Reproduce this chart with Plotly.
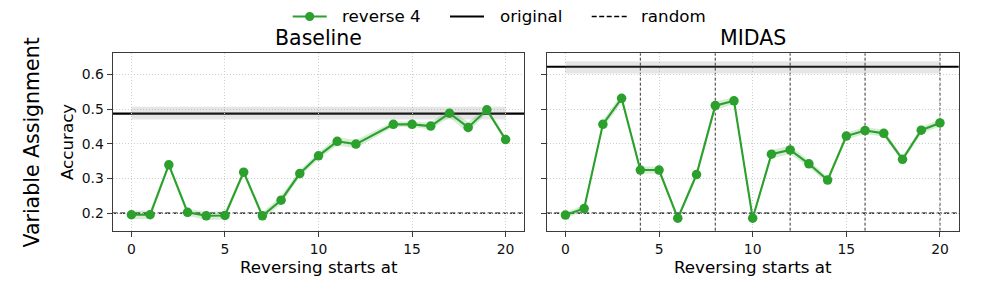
import plotly.graph_objects as go

# ---------------- data ----------------
baseline_x = [0, 1, 2, 3, 4, 5, 6, 7, 8, 9, 10, 11, 12, 14, 15, 16, 17, 18, 19, 20]
baseline_acc = [0.195, 0.195, 0.339, 0.202, 0.192, 0.193, 0.318, 0.192, 0.237, 0.314,
                0.365, 0.407, 0.399, 0.456, 0.456, 0.451, 0.488, 0.447, 0.498, 0.412]
baseline_std = [0.012, 0.012, 0.008, 0.010, 0.012, 0.012, 0.008, 0.010, 0.012, 0.010,
                0.010, 0.012, 0.012, 0.008, 0.008, 0.010, 0.012, 0.016, 0.008, 0.008]

midas_x = [0, 1, 2, 3, 4, 5, 6, 7, 8, 9, 10, 11, 12, 13, 14, 15, 16, 17, 18, 19, 20]
midas_acc = [0.194, 0.213, 0.456, 0.531, 0.324, 0.324, 0.185, 0.311, 0.510, 0.524, 0.185,
             0.370, 0.382, 0.342, 0.295, 0.422, 0.438, 0.430, 0.355, 0.439, 0.460]
midas_std = [0.008, 0.010, 0.012, 0.012, 0.010, 0.010, 0.006, 0.010, 0.012, 0.010, 0.006,
             0.012, 0.012, 0.010, 0.010, 0.010, 0.010, 0.010, 0.008, 0.010, 0.010]

original_mean = {"Baseline": 0.487, "MIDAS": 0.622}
original_lo = {"Baseline": 0.470, "MIDAS": 0.603}
original_hi = {"Baseline": 0.507, "MIDAS": 0.638}
random_level = 0.2
midas_vlines = [4, 8, 12, 16, 20]

x_ticks = [0, 5, 10, 15, 20]
y_ticks = [0.2, 0.3, 0.4, 0.5, 0.6]
y_tick_labels = ["0.2", "0.3", "0.4", "0.5", "0.6"]

panel_titles = ["Baseline", "MIDAS"]
legend_labels = ["reverse 4", "original", "random"]

# ---------------- style ----------------
W, H = 997, 299
GREEN = "#2ca02c"
GREEN_BAND = "rgba(44,160,44,0.2)"
GREY_BAND = "rgba(128,128,128,0.2)"
FONT = "DejaVu Sans"
SPINE = "#3a3a3a"
DASH = "5px,2.5px"


def px_x(p):
    return p / W


def px_y(p):
    return 1 - p / H


panels = [
    dict(name="Baseline", x=baseline_x, y=baseline_acc, s=baseline_std,
         xa="x", ya="y", dom=(112.7, 524.3)),
    dict(name="MIDAS", x=midas_x, y=midas_acc, s=midas_std,
         xa="x2", ya="y2", dom=(546.7, 958.7)),
]
ydom = (px_y(230.7), px_y(53.3))

fig = go.Figure()
shapes = []
annotations = []

for i, p in enumerate(panels):
    xs, ys, ss = p["x"], p["y"], p["s"]
    name = p["name"]
    # original band (constant across x range of data)
    fig.add_trace(go.Scatter(x=[xs[0], xs[-1]], y=[original_hi[name]] * 2, mode="lines",
                             line=dict(width=0), hoverinfo="skip", showlegend=False,
                             xaxis=p["xa"], yaxis=p["ya"]))
    fig.add_trace(go.Scatter(x=[xs[0], xs[-1]], y=[original_lo[name]] * 2, mode="lines",
                             line=dict(width=0), fill="tonexty", fillcolor=GREY_BAND,
                             hoverinfo="skip", showlegend=False,
                             xaxis=p["xa"], yaxis=p["ya"]))
    # green band
    fig.add_trace(go.Scatter(x=xs, y=[a + b for a, b in zip(ys, ss)], mode="lines",
                             line=dict(width=0), hoverinfo="skip", showlegend=False,
                             xaxis=p["xa"], yaxis=p["ya"]))
    fig.add_trace(go.Scatter(x=xs, y=[a - b for a, b in zip(ys, ss)], mode="lines",
                             line=dict(width=0), fill="tonexty", fillcolor=GREEN_BAND,
                             hoverinfo="skip", showlegend=False,
                             xaxis=p["xa"], yaxis=p["ya"]))
    # main series
    fig.add_trace(go.Scatter(x=xs, y=ys, mode="lines+markers",
                             line=dict(color=GREEN, width=2.1),
                             marker=dict(color=GREEN, size=9.5),
                             name="reverse 4", showlegend=False,
                             xaxis=p["xa"], yaxis=p["ya"]))

    xd = p["xa"] + " domain"
    # original horizontal line
    shapes.append(dict(type="line", xref=xd, yref=p["ya"], x0=0, x1=1,
                       y0=original_mean[name], y1=original_mean[name],
                       line=dict(color="black", width=2.1), layer="below"))
    # random dashed line
    shapes.append(dict(type="line", xref=xd, yref=p["ya"], x0=0, x1=1,
                       y0=random_level, y1=random_level,
                       line=dict(color="black", width=1.3, dash=DASH), layer="below"))

    # title & xlabel
    cx = (p["dom"][0] + p["dom"][1]) / 2
    annotations.append(dict(text=panel_titles[i], xref="paper", yref="paper",
                            x=px_x(cx), y=px_y(37.5), xanchor="center", yanchor="middle",
                            showarrow=False, font=dict(family=FONT, size=20.5, color="black")))
    annotations.append(dict(text="Reversing starts at", xref="paper", yref="paper",
                            x=px_x(cx), y=px_y(267), xanchor="center", yanchor="middle",
                            showarrow=False, font=dict(family=FONT, size=16.7, color="black")))

for v in midas_vlines:
    shapes.append(dict(type="line", xref="x2", yref="y2 domain", x0=v, x1=v, y0=0, y1=1,
                       line=dict(color="rgba(0,0,0,0.8)", width=1, dash="3px,2px"),
                       layer="below"))

# y label and row label
annotations.append(dict(text="Accuracy", xref="paper", yref="paper", x=px_x(67),
                        y=px_y(142), xanchor="center", yanchor="middle", textangle=-90,
                        showarrow=False, font=dict(family=FONT, size=16.7, color="black")))
annotations.append(dict(text="Variable Assignment", xref="paper", yref="paper", x=px_x(31),
                        y=px_y(142.5), xanchor="center", yanchor="middle", textangle=-90,
                        showarrow=False, font=dict(family=FONT, size=20.5, color="black")))

# ---------------- manual legend ----------------
ly = px_y(16.5)
shapes.append(dict(type="line", xref="paper", yref="paper", x0=px_x(292.7), x1=px_x(326.7),
                   y0=ly, y1=ly, line=dict(color=GREEN, width=2.1)))
shapes.append(dict(type="circle", xref="paper", yref="paper",
                   x0=px_x(309.7 - 4.6), x1=px_x(309.7 + 4.6),
                   y0=px_y(16.5 + 4.6), y1=px_y(16.5 - 4.6),
                   fillcolor=GREEN, line=dict(width=0)))
shapes.append(dict(type="line", xref="paper", yref="paper", x0=px_x(450), x1=px_x(484),
                   y0=ly, y1=ly, line=dict(color="black", width=2.1)))
shapes.append(dict(type="line", xref="paper", yref="paper", x0=px_x(591.7), x1=px_x(626.7),
                   y0=ly, y1=ly, line=dict(color="black", width=1.3, dash=DASH)))
for lbl, lx in zip(legend_labels, [340, 498, 639]):
    annotations.append(dict(text=lbl, xref="paper", yref="paper", x=px_x(lx), y=ly,
                            xanchor="left", yanchor="middle", showarrow=False,
                            font=dict(family=FONT, size=16.7, color="black")))

# ---------------- axes ----------------
common = dict(
    ticks="outside", ticklen=5, tickwidth=1, tickcolor=SPINE, showline=True,
    linecolor=SPINE, linewidth=1.3, mirror=True, showgrid=True, gridcolor="#cfcfcf",
    griddash="1px,2px", gridwidth=0.8, zeroline=False,
    tickfont=dict(family=FONT, size=13.9, color="#111"),
)
xcommon = dict(range=[-1, 21], tickvals=x_ticks, **common)
ycommon = dict(range=[0.149, 0.661], tickvals=y_ticks, ticktext=y_tick_labels, **common)

fig.update_layout(
    width=W, height=H, margin=dict(l=0, r=0, t=0, b=0, autoexpand=False),
    paper_bgcolor="white", plot_bgcolor="white", showlegend=False,
    xaxis=dict(domain=[px_x(112.7), px_x(524.3)], anchor="y", **xcommon),
    xaxis2=dict(domain=[px_x(546.7), px_x(958.7)], anchor="y2", **xcommon),
    yaxis=dict(domain=list(ydom), anchor="x", **ycommon),
    yaxis2=dict(domain=list(ydom), anchor="x2", showticklabels=False, **ycommon),
    shapes=shapes, annotations=annotations,
    font=dict(family=FONT),
)

fig.write_html(
    "out.html",
    config={"displayModeBar": False},
    post_script="document.body.style.margin='0';document.body.style.overflow='hidden';",
)
